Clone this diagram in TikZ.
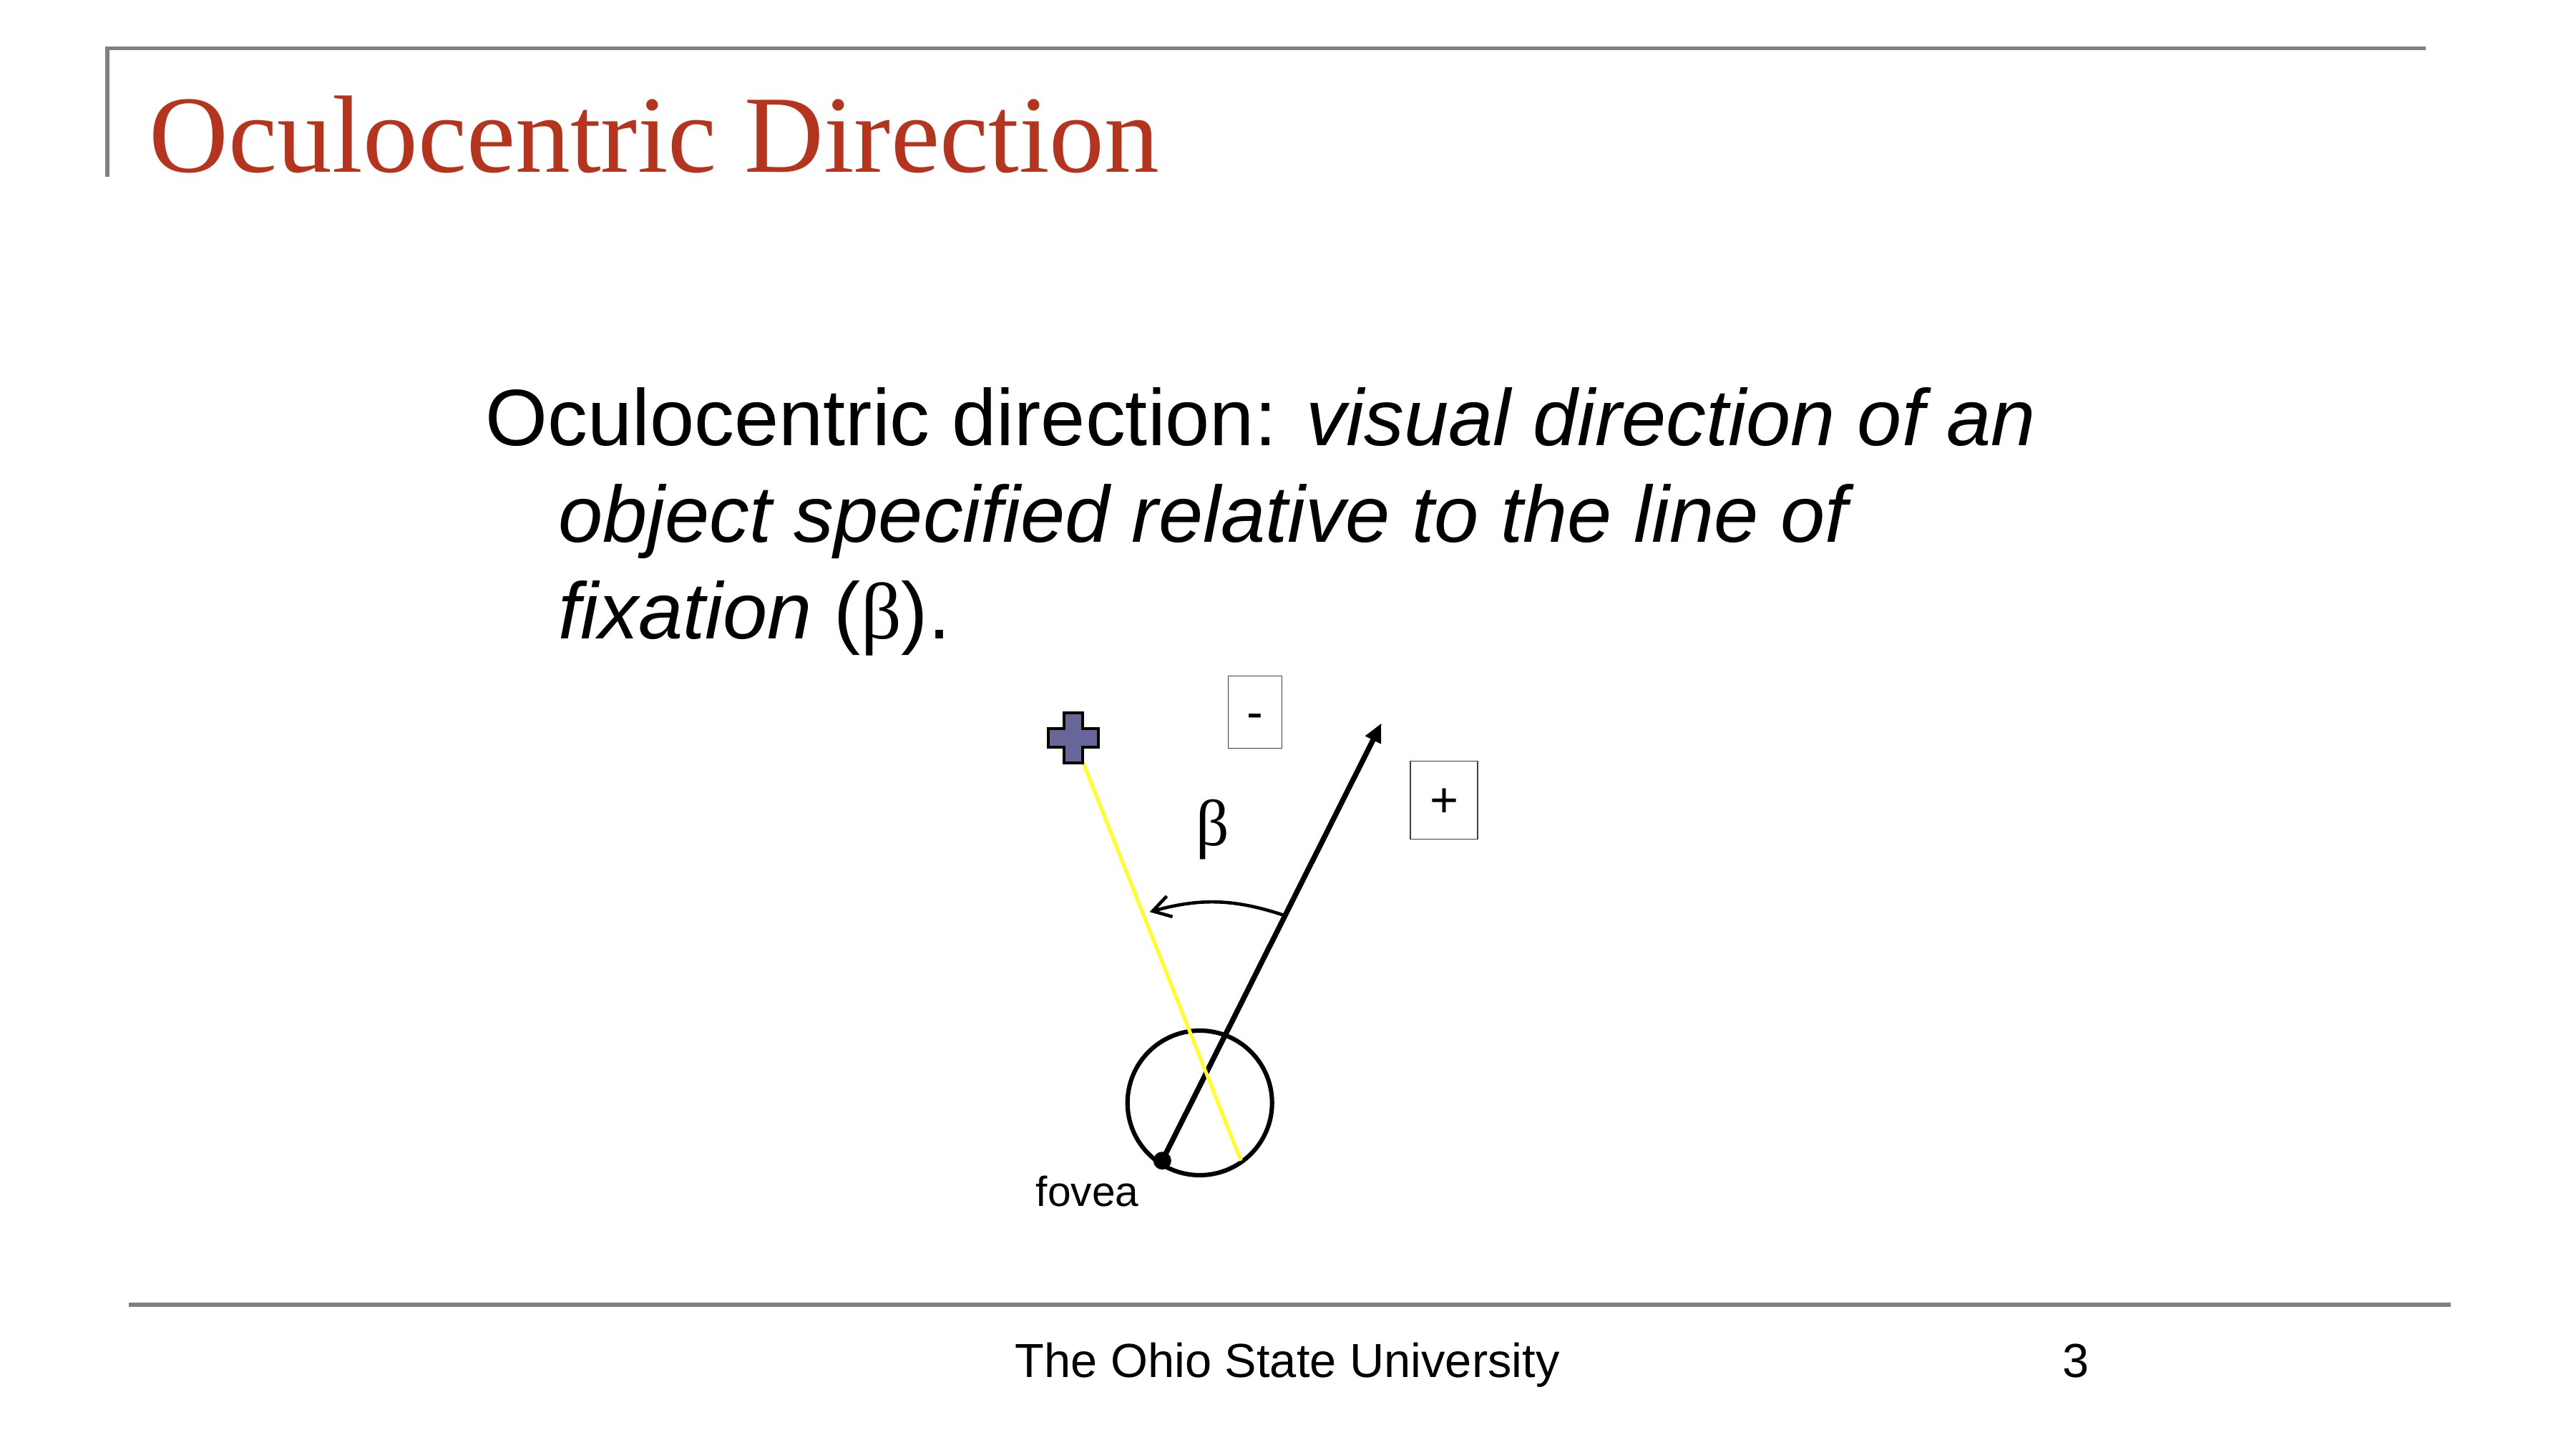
\documentclass[tikz,border=0pt]{standalone}
\usepackage{fontspec}
\setmainfont{Liberation Sans}
\newfontfamily\serifgreek{Liberation Serif}
\newfontfamily\titlefont{Liberation Serif}
\usetikzlibrary{positioning, arrows.meta, calc}
\definecolor{titlered}{RGB}{180,52,30}
\definecolor{rulegray}{RGB}{128,128,128}
\definecolor{crossblue}{RGB}{102,102,153}
\definecolor{sightyellow}{RGB}{255,255,40}

\begin{document}
\begin{tikzpicture}[
    rulebar/.style={draw=rulegray, line width=1.7pt},
    titletext/.style={inner sep=0pt, text=titlered, font=\titlefont\fontsize{43.7}{52}\selectfont},
    bodytext/.style={inner sep=0pt, font=\fontsize{31.8}{38.4}\selectfont},
    foottext/.style={inner sep=0pt, font=\fontsize{19}{23}\selectfont},
    labeltext/.style={inner sep=0pt, font=\fontsize{16.7}{20}\selectfont},
    signbox/.style={draw=black!75, line width=0.4pt, inner sep=0pt, text height=17.2pt, text depth=4pt, font=\fontsize{19.5}{23}\selectfont},
    eye/.style={circle, draw, line width=1.75pt, inner sep=0pt, minimum size=2.02cm},
    fovdot/.style={circle, fill, inner sep=0pt, minimum size=0.25cm},
    sight/.style={draw=sightyellow, line width=1.4pt},
    gaze/.style={line width=2.1pt, -{Triangle[length=7.5pt,width=6.5pt]}},
    angarrow/.style={line width=1.3pt, -{Straight Barb[length=7pt,width=8.5pt]}},
    crossfill/.style={fill=crossblue, draw=black, line width=0.9pt}
]
\useasboundingbox (0,0) rectangle (36,20.25);

\draw[rulebar] (33.90,19.575) -- (1.50,19.575) -- (1.50,17.78);
\node[titletext, anchor=base west] (title) at (2.08,17.84) {Oculocentric Direction};

\node[bodytext, anchor=base west] (line1) at (6.78,14.02) {Oculocentric direction: \textit{visual direction of an}};
\node[bodytext, anchor=base west] (line2) at (7.80,12.68) {\textit{object specified relative to the line of}};
\node[bodytext, anchor=base west] (line3) at (7.80,11.33) {\textit{fixation} ({\serifgreek β}).};

\coordinate (target) at (15.00,9.94);
\coordinate (fovea) at (16.243,4.033);
\coordinate (tip) at (19.306,10.146);
\coordinate (exit) at (17.343,4.033);
\coordinate (arcstart) at ($(fovea)!0.56!(tip)$);
\coordinate (arcend) at (16.066,7.508);

\node[eye] (eyeball) at (16.767,4.84) {};
\draw[gaze] (fovea) -- (tip);
\draw[sight] (target) -- (exit);
\draw[crossfill] (target) ++(-0.13,0.35) -- ++(0.26,0) -- ++(0,-0.22) -- ++(0.22,0) -- ++(0,-0.26) -- ++(-0.22,0)
    -- ++(0,-0.22) -- ++(-0.26,0) -- ++(0,0.22) -- ++(-0.22,0) -- ++(0,0.26) -- ++(0.22,0) -- cycle;
\node[fovdot] (fov) at (fovea) {};
\draw[angarrow] (arcstart) to[bend right=17] (arcend);

\node[font=\serifgreek\fontsize{26}{30}\selectfont, inner sep=0pt] (beta) at (16.949,8.656) {β};
\node[signbox, minimum width=0.75cm, minimum height=1.01cm] (minus) at (17.538,10.299) {-};
\node[signbox, minimum width=0.94cm, minimum height=1.09cm] (plus) at (20.18,9.069) {+};
\node[labeltext, anchor=base west] (fovlabel) at (14.47,3.40) {fovea};

\draw[rulebar] (1.80,2.025) -- (34.25,2.025);
\node[foottext, anchor=base west] (uni) at (14.18,1.01) {The Ohio State University};
\node[foottext, anchor=base west] (page) at (28.82,1.01) {3};
\end{tikzpicture}
\end{document}
